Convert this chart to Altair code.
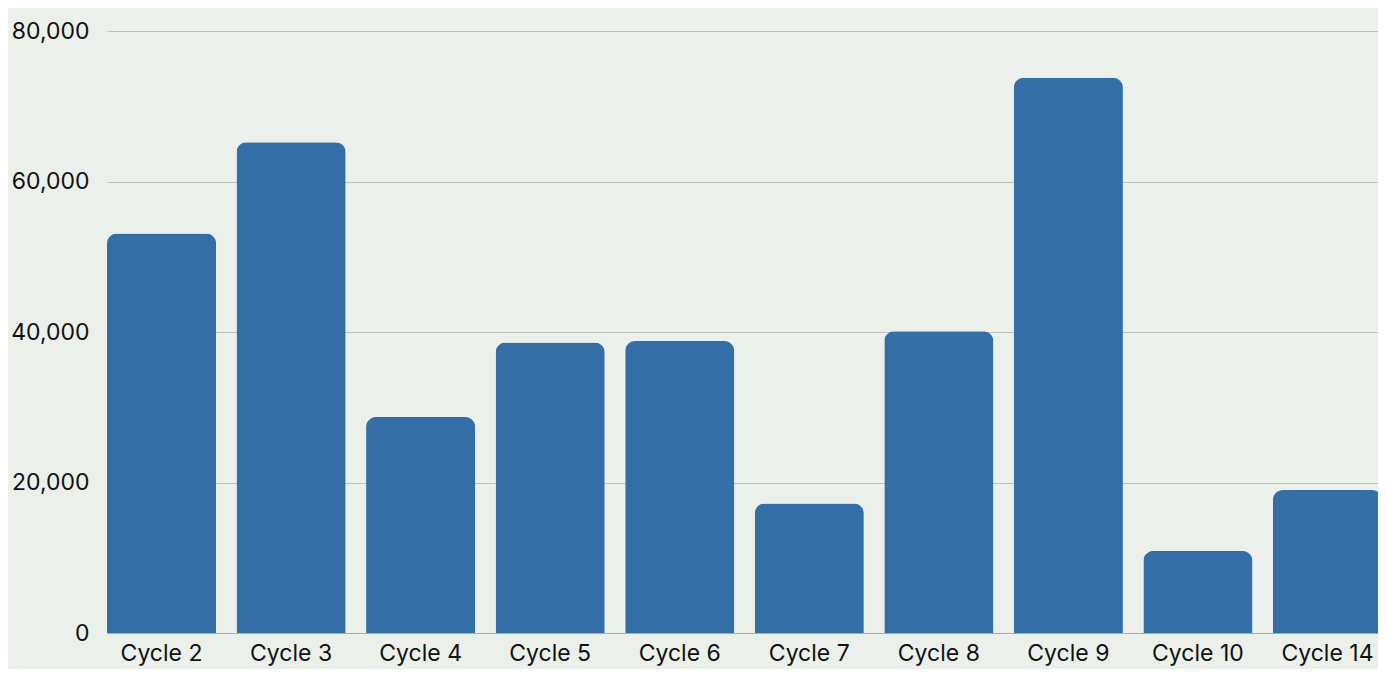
import altair as alt
import pandas as pd

cycles = ["Cycle 2", "Cycle 3", "Cycle 4", "Cycle 5", "Cycle 6",
          "Cycle 7", "Cycle 8", "Cycle 9", "Cycle 10", "Cycle 14"]
values = [53100, 65200, 28700, 38600, 38800, 17200, 40100, 73800, 10900, 19000]

df = pd.DataFrame({"cycle": cycles, "value": values})

FONT = "Inter"

chart = alt.Chart(df).mark_bar(
    color="#336FA6",
    cornerRadiusTopLeft=10,
    cornerRadiusTopRight=10,
).encode(
    x=alt.X("cycle:N", sort=cycles, title=None,
            scale=alt.Scale(paddingInner=0.158, paddingOuter=0, range=[0, 1275]),
            axis=alt.Axis(labelAngle=0, ticks=False, domain=True,
                          domainColor="#A8ABA8", labelPadding=9,
                          labelFontSize=23, labelFont=FONT, labelColor="#111111")),
    y=alt.Y("value:Q", title=None,
            scale=alt.Scale(domain=[0, 80000]),
            axis=alt.Axis(values=[0, 20000, 40000, 60000, 80000], format=",d",
                          ticks=False, domain=False, gridColor="#BFC3BF",
                          labelPadding=18, labelFontSize=23, labelFont=FONT,
                          labelColor="#111111")),
).properties(
    width=1271, height=602,
    background="#EBF0EB",
    autosize="none",
    padding={"left": 99, "top": 23, "right": 0, "bottom": 36},
).configure_view(stroke=None)

chart.save("out.html", embed_options={"renderer": "svg", "actions": False})
